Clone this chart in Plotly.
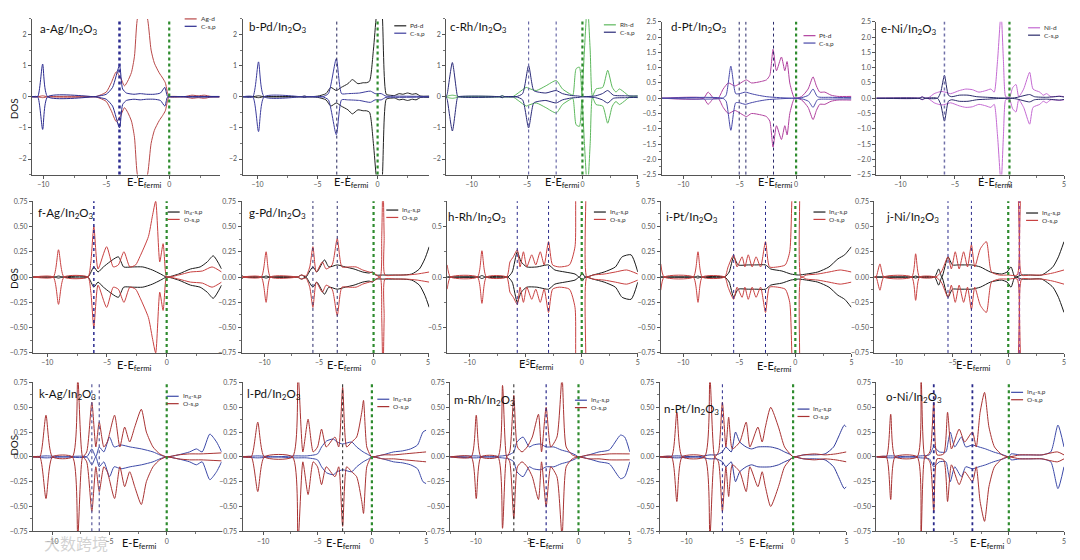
import plotly.graph_objects as go

# the page adds an 8 px body margin, so the figure is drawn 8 px in from the corner
PAGE_W, PAGE_H, OFF = 1080, 560, 8
FW, FH = PAGE_W - 2 * OFF, PAGE_H - 2 * OFF

# ── spin-up DOS curves: [E - E_fermi (eV), DOS] ─────────────────────────────
# (the spin-down channel is drawn as the mirror image of each curve)

# a  Ag/In2O3
A_AG_D = [[-10.9, 0], [-10.45, 0], [-10.05, 0.03], [-9.65, 0], [-5.9, 0], [-5.5, 0.05],
          [-5.0, 0.15], [-4.6, 0.45], [-4.2, 0.8], [-3.85, 0.6], [-3.55, 0.35], [-3.3, 0.5],
          [-3.0, 0.78], [-2.76, 1.3], [-2.55, 2.45], [-2.15, 3.2], [-1.7, 2.45], [-1.44, 1.5],
          [-1.18, 1.08], [-0.8, 0.77], [-0.52, 0.6], [-0.31, 0.45], [-0.12, 0.1], [0, 0],
          [1.3, 0.01], [1.8, 0.05], [2.3, 0.03], [2.8, 0.05], [3.3, 0.01], [4.0, 0]]
A_CSP = [[-10.9, 0], [-10.45, 0], [-10.05, 1.05], [-9.65, 0], [-6.0, 0], [-5.5, 0.03],
         [-5.0, 0.08], [-4.5, 0.3], [-3.95, 1.0], [-3.7, 0.25], [-3.4, 0.12], [-2.8, 0.08],
         [-2.3, 0.1], [-1.8, 0.08], [-1.2, 0.08], [-0.7, 0.12], [-0.35, 0.3], [-0.15, 0.02],
         [0, 0], [1.5, 0.01], [4.0, 0.01]]
A_VL = [-3.95]

# b  Pd/In2O3
B_PD_D = [[-11.25, 0], [-10.4, 0], [-9.92, 0.03], [-9.45, 0], [-6.4, 0], [-6.1, 0.02], [-5.8, 0],
          [-5.0, 0.02], [-4.3, 0.1], [-3.9, 0.3], [-3.44, 0.2], [-3.03, 0.3], [-2.47, 0.42],
          [-2.1, 0.55], [-1.64, 0.42], [-1.2, 0.45], [-0.94, 0.45], [-0.67, 0.5], [-0.35, 1.5],
          [-0.1, 2.6], [0.15, 3.2], [0.39, 2.6], [0.72, 0.08], [1.0, 0.05], [1.4, 0.04],
          [1.8, 0.1], [2.1, 0.08], [2.5, 0.12], [2.9, 0.08], [3.2, 0.1], [3.6, 0.02], [4.3, 0.02]]
B_CSP = [[-11.25, 0], [-10.4, 0], [-9.92, 1.12], [-9.45, 0], [-6.4, 0], [-6.1, 0.02], [-5.8, 0],
         [-4.6, 0], [-4.1, 0.1], [-3.44, 1.22], [-3.0, 0.1], [-2.5, 0.1], [-1.5, 0.12],
         [-0.6, 0.18], [-0.2, 0.1], [0.3, 0.1], [0.7, 0.02], [1.5, 0.02], [4.3, 0.01]]
B_VL = [-3.4]

# c  Rh/In2O3
C_RH_D = [[-12.3, 0], [-12.1, 0.03], [-11.74, 0.05], [-11.4, 0.03], [-11.2, 0], [-7.5, 0],
          [-7.24, 0.03], [-7.0, 0], [-6.3, 0], [-5.8, 0.12], [-5.07, 0.3], [-4.86, 0.27],
          [-4.17, 0.2], [-3.3, 0.35], [-2.37, 0.52], [-1.8, 0.25], [-1.17, 0.1], [-0.87, 0.05],
          [-0.57, 0.9], [-0.27, 0.95], [-0.05, 0.1], [0.18, 1.5], [0.45, 3.0], [0.7, 1.5],
          [0.9, 0.02], [1.23, 0.25], [1.83, 0.3], [2.28, 0.85], [2.7, 0.3], [3.03, 0.15],
          [3.33, 0.25], [3.93, 0.1], [4.23, 0.02], [5.0, 0.03]]
C_CSP = [[-12.3, 0], [-12.2, 0.1], [-11.74, 1.1], [-11.3, 0.05], [-11.2, 0], [-7.5, 0],
         [-7.24, 0.03], [-7.0, 0], [-6.0, 0], [-5.4, 0.1], [-4.86, 1.0], [-4.4, 0.2],
         [-4.0, 0.15], [-3.3, 0.12], [-2.37, 0.2], [-1.8, 0.1], [-1.0, 0.04], [-0.3, 0.02],
         [0, 0], [1.2, 0.03], [1.8, 0.1], [2.28, 0.2], [2.8, 0.05], [3.9, 0.03], [5.0, 0.02]]
C_VL = [-4.86, -2.37]

# d  Pt/In2O3
D_PT_D = [[-11.9, 0], [-8.2, 0], [-7.8, 0.2], [-7.3, 0], [-6.9, 0], [-6.46, 0.3], [-6.0, 0.5],
          [-5.43, 0.4], [-5.13, 0.45], [-4.69, 0.55], [-4.4, 0.6], [-3.95, 0.5], [-3.07, 0.55],
          [-2.63, 0.6], [-2.33, 0.75], [-2.04, 1.6], [-1.74, 0.9], [-1.3, 1.35], [-1.0, 0.9],
          [-0.8, 1.2], [-0.56, 0.5], [-0.27, 0.1], [-0.12, 0], [0.47, 0.05], [1.06, 0.3],
          [1.5, 0.7], [1.8, 0.4], [2.1, 0.2], [2.54, 0.2], [3.1, 0.1], [3.7, 0.06], [4.9, 0.06]]
D_CSP = [[-11.9, 0], [-6.5, 0], [-6.2, 0.1], [-5.78, 1.05], [-5.35, 0.15], [-5.0, 0.15],
         [-4.5, 0.2], [-4.0, 0.15], [-3.4, 0.1], [-2.6, 0.05], [-1.5, 0.02], [-0.3, 0],
         [0.5, 0.02], [1.1, 0.1], [1.5, 0.3], [1.9, 0.05], [3.0, 0.03], [4.9, 0.02]]
D_VL = [-5.04, -4.45, -2.0]

# e  Ni/In2O3
E_NI_D = [[-12.2, 0], [-8.3, 0], [-8.0, 0.05], [-7.7, 0], [-7.4, 0.02], [-6.9, 0.15], [-6.5, 0.2],
          [-6.2, 0.22], [-5.9, 0.2], [-5.4, 0.15], [-4.6, 0.25], [-4.0, 0.3], [-3.4, 0.28],
          [-2.8, 0.2], [-2.16, 0.25], [-1.7, 0.3], [-1.4, 0.2], [-1.1, 1.2], [-0.77, 2.8],
          [-0.55, 1.2], [-0.35, 0.05], [-0.15, 0.03], [0, 0.02], [0.3, 0.35], [0.6, 0.45],
          [0.85, 0.05], [1.3, 0.3], [1.85, 0.85], [2.16, 0.3], [2.78, 0.2], [3.1, 0.1],
          [3.4, 0.15], [3.8, 0.05], [4.6, 0.07], [5.0, 0.05]]
E_CSP = [[-12.2, 0], [-8.3, 0], [-8.0, 0.04], [-7.7, 0], [-6.6, 0], [-6.3, 0.2], [-5.96, 0.75],
         [-5.6, 0.1], [-5.3, 0.05], [-4.6, 0.1], [-3.8, 0.1], [-3.0, 0.05], [-2.0, 0.03],
         [-1.0, 0.01], [0, 0], [0.6, 0.02], [1.85, 0.12], [2.3, 0.05], [3.4, 0.03], [4.6, 0.06],
         [5.0, 0.04]]
E_VL = [-5.96]

# f  Ag/In2O3, In4 and O
F_IN = [[-11.2, 0], [-9.4, 0], [-9.06, 0.01], [-8.7, 0], [-6.6, 0], [-6.1, 0.1], [-5.75, 0.05],
        [-5.3, 0.1], [-4.05, 0.2], [-3.6, 0.1], [-2.9, 0.1], [-2.0, 0.1], [-1.2, 0.07],
        [-0.5, 0.03], [0, 0], [1.0, 0.03], [2.0, 0.08], [2.8, 0.1], [3.4, 0.15], [3.9, 0.21],
        [4.6, 0.08]]
F_O = [[-11.2, 0], [-9.5, 0], [-9.06, 0.27], [-8.6, 0], [-6.6, 0], [-6.35, 0.15], [-6.1, 0.5],
       [-5.75, 0.08], [-5.03, 0.3], [-4.47, 0.1], [-4.05, 0.12], [-3.58, 0.25], [-3.08, 0.1],
       [-2.6, 0.12], [-2.25, 0.2], [-1.53, 0.4], [-1.2, 0.6], [-0.92, 0.75], [-0.58, 0.15],
       [-0.3, 0.33], [-0.1, 0.05], [0, 0], [1.0, 0.02], [2.0, 0.05], [3.0, 0.06], [3.8, 0.1],
       [4.6, 0.05]]
F_VL = [-6.1]

# g  Pd/In2O3
G_IN = [[-12.1, 0.02], [-11.9, 0], [-10.2, 0], [-9.85, 0.01], [-9.5, 0], [-7.0, 0], [-6.6, 0.02],
        [-6.2, 0], [-5.9, 0.05], [-5.56, 0.1], [-5.2, 0.05], [-4.5, 0.17], [-4.1, 0.1],
        [-3.33, 0.12], [-2.6, 0.1], [-1.8, 0.08], [-1.0, 0.05], [-0.4, 0.04], [-0.1, 0.05],
        [0.2, 0.02], [0.8, 0.02], [1.5, 0.02], [2.5, 0.02], [3.5, 0.03], [4.2, 0.08],
        [4.7, 0.18], [5.1, 0.3]]
G_O = [[-12.1, 0], [-10.3, 0], [-9.85, 0.25], [-9.45, 0], [-7.0, 0], [-6.6, 0.02], [-6.2, 0.01],
       [-5.85, 0.1], [-5.56, 0.3], [-5.25, 0.05], [-4.7, 0.15], [-4.35, 0.08], [-3.8, 0.12],
       [-3.33, 0.38], [-2.9, 0.1], [-2.3, 0.1], [-1.6, 0.1], [-1.0, 0.07], [-0.4, 0.05],
       [0.0, 0.04], [0.6, 0.0], [0.75, 0.4], [0.86, 1.0], [0.97, 0.4], [1.05, 0.02],
       [2.0, 0.02], [3.0, 0.02], [4.0, 0.03], [5.1, 0.05]]
G_VL = [-5.56, -3.33]

# h  Rh/In2O3
H_IN = [[-12, 0], [-9.2, 0], [-8.9, 0.015], [-8.6, 0], [-6.6, 0], [-6.2, 0.05], [-5.75, 0.25],
        [-5.4, 0.15], [-4.9, 0.1], [-4.0, 0.1], [-2.96, 0.12], [-2.4, 0.07], [-1.5, 0.05],
        [-0.6, 0.03], [-0.2, 0.0], [0.05, 0.04], [0.3, 0.0], [1.0, 0.02], [2.0, 0.05],
        [3.0, 0.1], [3.6, 0.2], [4.4, 0.22], [5.0, 0.05]]
H_O = [[-12, 0.12], [-11.7, 0], [-9.3, 0], [-8.9, 0.26], [-8.5, 0], [-6.7, 0], [-6.4, 0.15],
       [-6.1, 0.2], [-5.75, 0.27], [-5.5, 0.1], [-5.2, 0.25], [-4.9, 0.1], [-4.46, 0.22],
       [-4.1, 0.12], [-3.7, 0.25], [-3.35, 0.12], [-2.96, 0.35], [-2.6, 0.12], [-2.0, 0.1],
       [-1.1, 0.12], [-0.6, 0.3], [-0.44, 1.0], [0.1, 1.1], [0.35, 1.0], [0.45, 0.0],
       [1.0, 0.02], [2.0, 0.03], [3.0, 0.05], [4.0, 0.07], [5.0, 0.03]]
H_VL = [-5.75, -2.96]

# i  Pt/In2O3
I_IN = [[-12, 0], [-9.0, 0], [-8.68, 0.01], [-8.4, 0], [-6.3, 0], [-5.9, 0.05], [-5.5, 0.2],
        [-5.1, 0.12], [-4.2, 0.12], [-3.5, 0.12], [-2.66, 0.12], [-2.2, 0.08], [-1.2, 0.06],
        [-0.4, 0.03], [0.3, 0.02], [1.0, 0.03], [2.0, 0.05], [3.0, 0.1], [3.8, 0.18],
        [4.4, 0.22], [5.0, 0.3]]
I_O = [[-12, 0.13], [-11.7, 0], [-9.1, 0], [-8.68, 0.25], [-8.3, 0], [-6.3, 0], [-6.0, 0.1],
       [-5.5, 0.22], [-5.2, 0.1], [-4.75, 0.2], [-4.5, 0.1], [-4.2, 0.22], [-3.85, 0.1],
       [-3.5, 0.2], [-3.1, 0.1], [-2.66, 0.35], [-2.3, 0.1], [-1.6, 0.1], [-0.9, 0.12],
       [-0.5, 0.25], [-0.2, 1.0], [0.1, 1.1], [0.36, 1.0], [0.5, 0], [1.0, 0.02], [2.0, 0.03],
       [3.0, 0.05], [4.0, 0.07], [5.0, 0.05]]
I_VL = [-5.5, -2.66]

# j  Ni/In2O3
J_IN = [[-12, 0], [-8.6, 0], [-8.3, 0.01], [-8.0, 0], [-6.6, 0], [-6.24, 0.08], [-5.95, 0],
        [-5.4, 0.2], [-5.0, 0.12], [-4.5, 0.12], [-3.8, 0.12], [-3.3, 0.12], [-2.5, 0.1],
        [-1.6, 0.05], [-0.6, 0.03], [-0.1, 0.05], [0.25, 0.1], [0.6, 0.0], [1.2, 0.02],
        [2.0, 0.02], [3.0, 0.02], [4.0, 0.1], [4.5, 0.2], [5.0, 0.35]]
J_O = [[-12, 0], [-11.85, 0], [-11.5, 0.13], [-11.15, 0], [-8.65, 0], [-8.3, 0.23], [-7.95, 0],
       [-6.5, 0], [-6.0, 0.05], [-5.4, 0.2], [-5.1, 0.08], [-4.75, 0.25], [-4.4, 0.08],
       [-4.0, 0.25], [-3.65, 0.1], [-3.3, 0.32], [-3.0, 0.1], [-2.5, 0.28], [-1.96, 0.35],
       [-1.5, 0.05], [-0.8, 0.02], [0, 0.02], [0.8, 0.02], [0.9, 0.9], [1.0, 1.0], [1.1, 0.9],
       [1.2, 0.02], [2.0, 0.02], [3.0, 0.02], [4.0, 0.04], [5.0, 0.07]]
J_VL = [-5.4, -3.3]
J_VL2 = [1.0]

# k  Ag/In2O3 (after adsorption)
K_IN = [[-11.7, 0], [-10.56, 0.01], [-9, 0], [-7, 0], [-6.55, 0.08], [-6.2, 0], [-5.9, 0.1],
        [-5.5, 0.05], [-5.0, 0.2], [-4.6, 0.1], [-4.0, 0.12], [-3.2, 0.1], [-2.2, 0.08],
        [-1.2, 0.05], [-0.6, 0.02], [0, 0], [1.0, 0.02], [2.0, 0.05], [2.6, 0.08], [3.1, 0.05],
        [3.77, 0.23], [4.36, 0.15], [4.8, 0.05]]
K_O = [[-11.7, 0], [-11.1, 0], [-10.56, 0.42], [-10.0, 0], [-8.25, 0], [-7.78, 0.8], [-7.35, 0],
       [-7.0, 0.05], [-6.55, 0.55], [-6.2, 0.1], [-5.9, 0.35], [-5.5, 0.1], [-5.2, 0.15],
       [-4.56, 0.42], [-4.1, 0.1], [-3.68, 0.3], [-3.24, 0.15], [-2.8, 0.3], [-2.22, 0.48],
       [-1.78, 0.25], [-1.2, 0.1], [-0.61, 0.03], [0, 0], [1.0, 0.02], [2.0, 0.03],
       [3.0, 0.03], [4.8, 0.04]]
K_VL = [-6.55, -5.9]

# l  Pd/In2O3
L_IN = [[-11.9, 0], [-10.5, 0.01], [-9, 0], [-7, 0.01], [-6, 0.01], [-5.0, 0.03], [-4.63, 0.1],
        [-4.17, 0.16], [-3.55, 0.18], [-3.2, 0.15], [-2.69, 0.13], [-1.86, 0.15], [-1.4, 0.1],
        [-0.8, 0.05], [-0.3, 0.02], [0, 0], [1.0, 0.02], [2.0, 0.05], [2.8, 0.06], [3.55, 0.08],
        [4.2, 0.12], [4.7, 0.25], [5.0, 0.27]]
L_O = [[-11.9, 0], [-11.1, 0], [-10.5, 0.35], [-9.9, 0], [-7.3, 0], [-6.8, 0.85], [-6.35, 0.05],
       [-5.87, 0.38], [-5.4, 0.05], [-5.0, 0.1], [-4.63, 0.28], [-4.2, 0.1], [-3.4, 0.2],
       [-3.05, 0.1], [-2.69, 0.7], [-2.32, 0.1], [-1.86, 0.15], [-1.4, 0.2], [-0.93, 0.45],
       [-0.77, 0.57], [-0.47, 0.1], [-0.16, 0.02], [0, 0], [1.0, 0.02], [2.0, 0.02],
       [3.0, 0.03], [4.0, 0.04], [5.0, 0.05]]
L_VL = [-2.69]

# m  Rh/In2O3
M_IN = [[-12.5, 0], [-9.96, 0.01], [-9, 0], [-7.4, 0.01], [-6.8, 0.02], [-6.3, 0.05], [-6.0, 0.15],
        [-5.4, 0.2], [-4.8, 0.1], [-4.4, 0.12], [-3.7, 0.13], [-3.15, 0.1], [-2.4, 0.1],
        [-1.7, 0.07], [-1.0, 0.05], [-0.3, 0.02], [0, 0], [1.0, 0.02], [2.0, 0.05], [3.0, 0.07],
        [4.1, 0.22], [4.5, 0.2], [5.0, 0.05]]
M_O = [[-12.5, 0], [-10.45, 0], [-9.96, 0.42], [-9.5, 0], [-7.85, 0], [-7.4, 0.72], [-7.0, 0.0],
       [-6.7, 0.05], [-6.3, 0.62], [-5.95, 0.1], [-5.5, 0.05], [-5.0, 0.1], [-4.5, 0.2],
       [-3.9, 0.43], [-3.6, 0.05], [-3.15, 0.5], [-2.7, 0.1], [-2.1, 0.2], [-1.6, 0.8],
       [-1.2, 0.1], [-0.6, 0.02], [0, 0], [1.0, 0.02], [2.0, 0.02], [3.0, 0.03], [5.0, 0.03]]
M_VL_K = [-6.3]
M_VL = [-3.15]

# n  Pt/In2O3
N_IN = [[-12.5, 0], [-10.9, 0.01], [-9, 0], [-7.8, 0.02], [-7.2, 0.02], [-6.63, 0.05], [-6.3, 0.1],
        [-5.8, 0.05], [-5.4, 0.25], [-5.0, 0.15], [-4.4, 0.1], [-3.9, 0.08], [-3.3, 0.1],
        [-2.1, 0.1], [-1.37, 0.08], [-0.8, 0.05], [-0.2, 0.02], [0, 0], [1.0, 0.02], [2.0, 0.02],
        [3.0, 0.03], [3.8, 0.1], [4.25, 0.2], [4.8, 0.32], [5.0, 0.3]]
N_O = [[-12.5, 0], [-11.4, 0], [-10.9, 0.45], [-10.4, 0], [-8.3, 0], [-7.8, 0.8], [-7.35, 0],
       [-7.0, 0.05], [-6.63, 0.55], [-6.3, 0.1], [-6.04, 0.4], [-5.7, 0.08], [-5.0, 0.15],
       [-4.4, 0.35], [-4.05, 0.1], [-3.3, 0.3], [-2.9, 0.15], [-2.6, 0.3], [-2.1, 0.5],
       [-1.37, 0.3], [-0.8, 0.1], [-0.2, 0.02], [0, 0], [1.0, 0.02], [2.0, 0.03], [3.0, 0.02],
       [4.0, 0.03], [5.0, 0.05]]
N_VL = [-6.63]

# o  Ni/In2O3
O_IN = [[-12, 0], [-10.7, 0.01], [-9, 0], [-8, 0.01], [-7.2, 0.02], [-6.8, 0.1], [-6.3, 0.05],
        [-5.7, 0.05], [-5.5, 0.15], [-5.3, 0.25], [-4.9, 0.1], [-4.3, 0.2], [-3.9, 0.1],
        [-3.3, 0.12], [-2.7, 0.1], [-2.1, 0.08], [-1.4, 0.05], [-0.5, 0.02], [0, 0], [0.2, 0.03],
        [1.0, 0.02], [2.0, 0.02], [3.0, 0.02], [3.8, 0.05], [4.45, 0.32], [5.0, 0.1]]
O_O = [[-12, 0], [-11.1, 0], [-10.7, 0.43], [-10.3, 0], [-8.3, 0], [-7.95, 0.8], [-7.6, 0],
       [-7.15, 0.05], [-6.8, 0.55], [-6.5, 0.02], [-5.9, 0.03], [-5.55, 0.45], [-5.2, 0.08],
       [-4.5, 0.28], [-4.0, 0.15], [-3.3, 0.25], [-2.95, 0.1], [-2.6, 0.45], [-2.2, 0.65],
       [-1.8, 0.3], [-1.3, 0.1], [-0.6, 0.02], [0, 0], [1.0, 0.02], [2.0, 0.02], [3.0, 0.02],
       [4.4, 0.05], [5.0, 0.02]]
O_VL = [-6.8, -3.3]

# ── styles ──────────────────────────────────────────────────────────────────
FONT = "Lato, 'Noto Sans', sans-serif"
NAVY = "#2b2b8f"
GREEN = "#2e8b2e"
SUB = "In<sub>2</sub>O<sub>3</sub>"
IN4 = "In<sub>4</sub>-s,p"


def fx(px):
    """page pixel (reference picture) -> paper x"""
    return (px - OFF) / FW


def fy(py):
    """page pixel (reference picture) -> paper y"""
    return 1 - (py - OFF) / FH


# one dict per panel: pixel box (left, right, top, bottom), axis ranges,
# curves (label, data, colour), dotted marker lines, text positions
panels = [
    dict(t="a-Ag/", box=(32, 220, 14, 172), xr=(-10.9, 4.0), yr=2.5, dt=1, fmt="d",
         s=[("Ag-d", A_AG_D, "#b84848"), ("C-s,p", A_CSP, NAVY)],
         vl=[(A_VL, NAVY, 2.5)], tp=(38, 25), lg=(185, 14), ee=(-2.0, 180)),
    dict(t="b-Pd/", box=(243, 430, 14, 172), xr=(-11.25, 4.3), yr=2.5, dt=1, fmt="d",
         s=[("Pd-d", B_PD_D, "#222222"), ("C-s,p", B_CSP, "#3c3c9c")],
         vl=[(B_VL, "#25255a", 1)], tp=(247, 23), lg=(395, 21), ee=(-2.2, 180)),
    dict(t="c-Rh/", box=(447, 639, 14, 172), xr=(-12.3, 5.0), yr=2.5, dt=1, fmt="d",
         s=[("Rh-d", C_RH_D, "#5cb85c"), ("C-s,p", C_CSP, "#2a2a78")],
         vl=[(C_VL, "#6a6aa8", 1.2)], tp=(449, 23), lg=(605, 20), ee=(-1.8, 180)),
    dict(t="d-Pt/", box=(663, 853, 17, 172), xr=(-11.9, 4.9), yr=2.5, dt=0.5, fmt=".1f",
         s=[("Pt-d", D_PT_D, "#b0409e"), ("C-s,p", D_CSP, "#4848a8")],
         vl=[(D_VL, "#2a2a6a", 1)], tp=(670, 23), lg=(805, 31), ee=(-1.8, 180)),
    dict(t="e-Ni/", box=(878, 1066, 17, 172), xr=(-12.2, 5.0), yr=2.5, dt=0.5, fmt=".1f",
         s=[("Ni-d", E_NI_D, "#c46ad2"), ("C-s,p", E_CSP, "#2a2a6a")],
         vl=[(E_VL, "#7070a8", 1.5)], tp=(881, 25), lg=(1030, 23), ee=(-1.3, 180)),

    dict(t="f-Ag/", box=(33, 222, 199, 353), xr=(-11.2, 4.6), yr=0.75, dt=0.25, fmt=".2f",
         s=[(IN4, F_IN, "#1a1a1a"), ("O-s,p", F_O, "#c84141")],
         vl=[(F_VL, NAVY, 1.5)], tp=(36, 211), lg=(168, 210), ee=(-2.7, 366)),
    dict(t="g-Pd/", box=(242, 430, 199, 353), xr=(-12.1, 5.1), yr=0.75, dt=0.25, fmt=".2f",
         s=[(IN4, G_IN, "#1a1a1a"), ("O-s,p", G_O, "#c84141")],
         vl=[(G_VL, "#2a2a6a", 1)], tp=(247, 211), lg=(387, 208), ee=(-2.7, 366)),
    dict(t="h-Rh/", box=(448, 639, 199, 353), xr=(-12.0, 5.0), yr=0.75, dt=0.5, fmt=".1f",
         s=[(IN4, H_IN, "#1a1a1a"), ("O-s,p", H_O, "#c84141")],
         vl=[(H_VL, "#2a2a8a", 1)], tp=(447, 216), lg=(595, 210), ee=(-4.0, 365)),
    dict(t="i-Pt/", box=(662, 853, 199, 353), xr=(-12.0, 5.0), yr=0.75, dt=0.25, fmt=".2f",
         s=[(IN4, I_IN, "#1a1a1a"), ("O-s,p", I_O, "#c84141")],
         vl=[(I_VL, "#2a2a8a", 1)], tp=(665, 216), lg=(815, 210), ee=(-1.9, 367)),
    dict(t="j-Ni/", box=(876, 1066, 199, 353), xr=(-12.0, 5.0), yr=0.75, dt=0.25, fmt=".2f",
         s=[(IN4, J_IN, "#1a1a1a"), ("O-s,p", J_O, "#c84141")],
         vl=[(J_VL, "#2a2a8a", 1), (J_VL2, "#9a4a9a", 1.5)], tp=(886, 216), lg=(1028, 211),
         ee=(-3.1, 366)),

    dict(t="k-Ag/", box=(33, 222, 383, 534), xr=(-11.7, 4.8), yr=0.75, dt=0.25, fmt=".2f",
         s=[(IN4, K_IN, "#3d4aa8"), ("O-s,p", K_O, "#a83232")],
         vl=[(K_VL, "#5a5a9a", 1.2)], tp=(37, 395), lg=(167, 397), ee=(-2.4, 546)),
    dict(t="l-Pd/", box=(243, 427, 383, 534), xr=(-11.9, 5.0), yr=0.75, dt=0.25, fmt=".2f",
         s=[(IN4, L_IN, "#3d4aa8"), ("O-s,p", L_O, "#a83232")],
         vl=[(L_VL, "#222222", 1)], tp=(245, 395), lg=(378, 400), ee=(-2.6, 546)),
    dict(t="m-Rh/", box=(451, 631, 383, 534), xr=(-12.5, 5.0), yr=0.75, dt=0.25, fmt=".2f",
         s=[(IN4, M_IN, "#3d4aa8"), ("O-s,p", M_O, "#a83232")],
         vl=[(M_VL_K, "#222222", 1), (M_VL, "#2a2a8a", 1.2)], tp=(453, 401), lg=(576, 401),
         ee=(-3.1, 546)),
    dict(t="n-Pt/", box=(661, 848, 383, 534), xr=(-12.5, 5.0), yr=0.75, dt=0.25, fmt=".2f",
         s=[(IN4, N_IN, "#2f3a9a"), ("O-s,p", N_O, "#a83232")],
         vl=[(N_VL, "#2a2a8a", 1)], tp=(663, 410), lg=(799, 410), ee=(-2.5, 546)),
    dict(t="o-Ni/", box=(878, 1066, 383, 534), xr=(-12.0, 5.0), yr=0.75, dt=0.25, fmt=".2f",
         s=[(IN4, O_IN, "#3d4aa8"), ("O-s,p", O_O, "#a83232")],
         vl=[(O_VL, "#2a2a8a", 1.8)], tp=(886, 398), lg=(1013, 393), ee=(-1.9, 546)),
]

fig = go.Figure()
layout = {}
shapes, annotations = [], []

axis_common = dict(
    showline=True, linecolor="#555", linewidth=1, showgrid=False, zeroline=False,
    ticks="outside", ticklen=3, tickwidth=1, tickcolor="#555",
    tickfont=dict(family=FONT, size=7, color="#555"),
)

for i, p in enumerate(panels, start=1):
    xa = "x" if i == 1 else f"x{i}"
    ya = "y" if i == 1 else f"y{i}"
    l, r, t, b = p["box"]

    for name, pts, color in p["s"]:
        xs = [e for e, _ in pts]
        ys = [d for _, d in pts]
        for sign in (1, -1):
            fig.add_trace(go.Scatter(
                x=xs, y=[sign * d for d in ys], mode="lines",
                line=dict(color=color, width=1, shape="spline", smoothing=0.6),
                xaxis=xa, yaxis=ya, showlegend=False, hoverinfo="skip",
            ))

    layout["xaxis" if i == 1 else f"xaxis{i}"] = dict(
        axis_common, domain=[fx(l), fx(r)], range=list(p["xr"]), anchor=ya,
        tick0=0, dtick=5, minor=dict(ticks="outside", ticklen=2, dtick=2.5, tickcolor="#777"),
    )
    layout["yaxis" if i == 1 else f"yaxis{i}"] = dict(
        axis_common, domain=[fy(b), fy(t)], range=[-p["yr"], p["yr"]], anchor=xa,
        tick0=0, dtick=p["dt"], tickformat=p["fmt"],
        minor=dict(ticks="outside", ticklen=2, dtick=p["dt"] / 2, tickcolor="#777"),
    )

    # dotted marker lines, Fermi level in green
    for xs, color, width in p["vl"]:
        for v in xs:
            shapes.append(dict(type="line", xref=xa, yref=f"{ya} domain", x0=v, x1=v,
                               y0=0, y1=1, line=dict(color=color, width=width, dash="dot")))
    shapes.append(dict(type="line", xref=xa, yref=f"{ya} domain", x0=0, x1=0, y0=0, y1=1,
                       line=dict(color=GREEN, width=2.2, dash="dot")))

    # panel label
    tx, ty = p["tp"]
    annotations.append(dict(text=p["t"] + SUB, x=fx(tx), y=fy(ty), xref="paper",
                            yref="paper", xanchor="left", yanchor="middle", showarrow=False,
                            font=dict(family=FONT, size=11.5, color="#111")))

    # small legend inside the panel
    lx, ly = p["lg"]
    for k, (name, _, color) in enumerate(p["s"]):
        yy = fy(ly + k * 7.5)
        shapes.append(dict(type="line", xref="paper", yref="paper", x0=fx(lx),
                           x1=fx(lx + 12), y0=yy, y1=yy, line=dict(color=color, width=1.2)))
        annotations.append(dict(text=name, x=fx(lx + 14), y=yy, xref="paper", yref="paper",
                                xanchor="left", yanchor="middle", showarrow=False,
                                font=dict(family=FONT, size=6.5, color="#333")))

    # x-axis title
    ex, ey = p["ee"]
    annotations.append(dict(text="E-E<sub>fermi</sub>", x=ex, y=fy(ey), xref=xa,
                            yref="paper", xanchor="center", yanchor="middle", showarrow=False,
                            font=dict(family=FONT, size=11, color="#111")))

for yc in (92, 277, 459):
    annotations.append(dict(text="DOS", x=fx(14), y=fy(yc), xref="paper", yref="paper",
                            xanchor="center", textangle=-90, showarrow=False,
                            font=dict(family=FONT, size=10, color="#111")))

# repost watermark, bottom left
annotations.append(dict(text="大数跨境", x=fx(42), y=fy(546), xref="paper", yref="paper",
                        xanchor="left", yanchor="middle", showarrow=False,
                        font=dict(family="Noto Sans CJK SC", size=16,
                                  color="rgba(190,190,190,0.7)")))

fig.update_layout(
    **layout,
    shapes=shapes,
    annotations=annotations,
    width=FW, height=FH,
    margin=dict(l=0, r=0, t=0, b=0),
    paper_bgcolor="white", plot_bgcolor="white",
    showlegend=False,
)

fig.write_html("out.html")
